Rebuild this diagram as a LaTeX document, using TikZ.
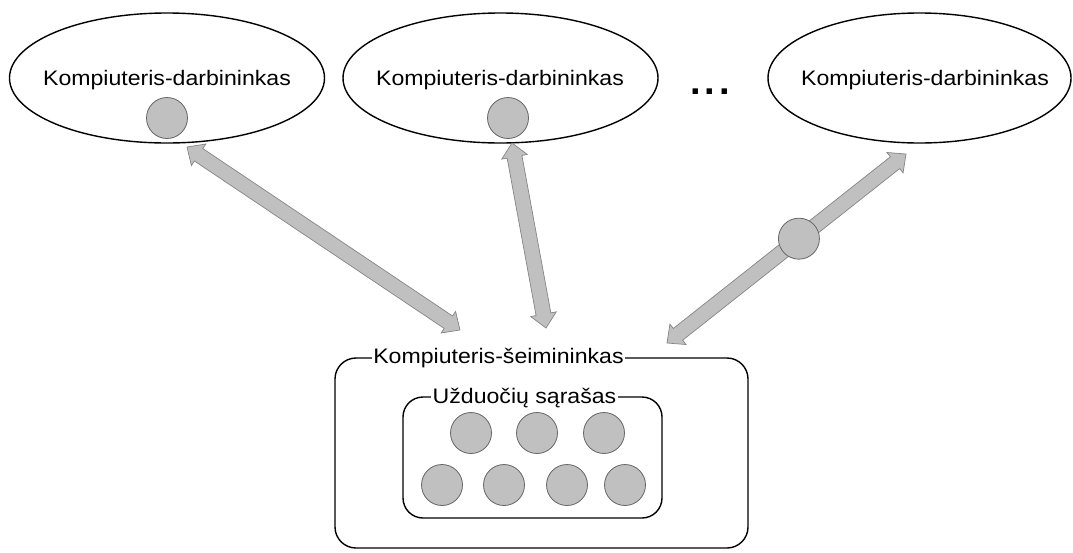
\documentclass[tikz,border=0pt]{standalone}
\usepackage{fontspec}
\setmainfont{Liberation Sans}
\usetikzlibrary{calc,shapes.geometric}

\definecolor{chipfill}{HTML}{C0C0C0}
\definecolor{chipline}{HTML}{666666}
\definecolor{arrowline}{HTML}{858585}

% slightly widened text face
\newcommand\wtxt[1]{\scalebox{1.1}[1]{#1}}

% double-headed block arrow between two named points
\newcommand\fatarrow[2]{%
  \filldraw[fatarrow] let \p1=($(#2)-(#1)$), \n1={atan2(\y1,\x1)} in
    (#1)
    -- ($(#1)+(\n1:14pt)+(\n1+90:13pt)$)
    -- ($(#1)+(\n1:14pt)+(\n1+90:7.5pt)$)
    -- ($(#2)+(\n1+180:14pt)+(\n1+90:7.5pt)$)
    -- ($(#2)+(\n1+180:14pt)+(\n1+90:13pt)$)
    -- (#2)
    -- ($(#2)+(\n1+180:14pt)+(\n1-90:13pt)$)
    -- ($(#2)+(\n1+180:14pt)+(\n1-90:7.5pt)$)
    -- ($(#1)+(\n1:14pt)+(\n1-90:7.5pt)$)
    -- ($(#1)+(\n1:14pt)+(\n1-90:13pt)$)
    -- cycle;}

\tikzset{
  worker/.style={ellipse, draw=black, line width=1.4pt, inner sep=0pt,
    minimum height=130pt},
  lbl/.style={font=\fontsize{21}{25}\selectfont, inner sep=0pt, anchor=base},
  chip/.style={circle, draw=chipline, line width=0.8pt, fill=chipfill,
    minimum size=41pt, inner sep=0pt},
  fatarrow/.style={fill=chipfill, draw=arrowline, line width=0.7pt,
    line join=miter},
  frame/.style={draw=black, line width=1.4pt, rounded corners=21pt},
  frametitle/.style={lbl, fill=white, inner xsep=1.5pt, inner ysep=1pt}
}

\begin{document}
\begin{tikzpicture}[x=1pt, y=-1pt]
\useasboundingbox (0,0) rectangle (1073,552);

% worker computers
\node[worker, minimum width=315pt] (w1) at (167,78) {};
\node[worker, minimum width=315pt] (w2) at (500.5,78) {};
\node[worker, minimum width=303pt] (w3) at (919.5,78) {};
\node[lbl] (w1t) at (167,85) {\wtxt{Kompiuteris-darbininkas}};
\node[lbl] (w2t) at (500,85) {\wtxt{Kompiuteris-darbininkas}};
\node[lbl] (w3t) at (925,85) {\wtxt{Kompiuteris-darbininkas}};
\node[chip] (j1) at (167,118) {};
\node[chip] (j2) at (508,118) {};

% ellipsis between the workers
\node[lbl, font=\fontsize{38}{42}\selectfont\bfseries] (dots) at (710,94)
  {.\hspace{4pt}.\hspace{4pt}.};

% master computer with its task list
\draw[frame] (335,358) rectangle (748,548);
\node[frametitle] (mt) at (498.5,363) {\wtxt{Kompiuteris-šeimininkas}};
\draw[frame, rounded corners=20pt] (403,397) rectangle (662,518);
\node[frametitle] (lt) at (524.5,403) {\wtxt{Užduočių sąrašas}};

\node[chip] (t1) at (471,433) {};
\node[chip] (t2) at (537,433) {};
\node[chip] (t3) at (604,433) {};
\node[chip] (t4) at (442,485) {};
\node[chip] (t5) at (504,485) {};
\node[chip] (t6) at (567,485) {};
\node[chip] (t7) at (625,485) {};

% links between master and workers
\coordinate (a1w) at (187,147);
\coordinate (a1m) at (460,330);
\coordinate (a2w) at (512,143);
\coordinate (a2m) at (546,328);
\coordinate (a3w) at (906,154);
\coordinate (a3m) at (667,343);
\fatarrow{a1w}{a1m}
\fatarrow{a2w}{a2m}
\fatarrow{a3w}{a3m}

% task travelling to the third worker
\node[chip] (j3) at ($(a3m)!0.552!(a3w)$) {};
\end{tikzpicture}
\end{document}
